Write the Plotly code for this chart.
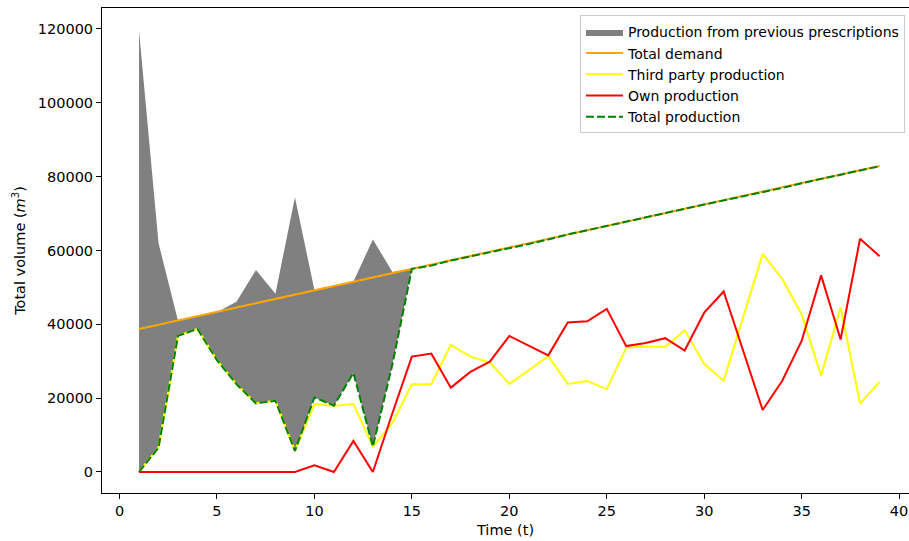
import plotly.graph_objects as go

t = list(range(1, 40))

total_demand = [38750, 39910, 41070, 42240, 43400, 44560, 45720, 46880, 48040, 49200,
                50370, 51530, 52690, 53860, 55020, 56180, 57340, 58500, 59660, 60830,
                61990, 63150, 64310, 65480, 66640, 67800, 68960, 70120, 71290, 72450,
                73610, 74770, 75940, 77100, 78260, 79420, 80580, 81750, 82910]

third_party = [0, 6600, 36900, 38750, 30300, 23800, 18600, 19300, 5700, 18400,
               17970, 18430, 6870, 13200, 23770, 23850, 34420, 31250, 29720, 23850,
               27550, 31400, 23850, 24660, 22400, 33690, 33960, 33870, 38400, 29270,
               24740, 42060, 59080, 52300, 42730, 26100, 44630, 18520, 24390]

own_production = [0, 0, 0, 0, 0, 0, 0, 0, 0, 1800,
                  0, 8400, 0, 15900, 31250, 32060, 22850, 27100, 29900, 36860,
                  34200, 31600, 40500, 40820, 44200, 34100, 34950, 36250, 32900, 43150,
                  48880, 32700, 16800, 24650, 35500, 53250, 35900, 63200, 58450]

# upper edge of the production from previous prescriptions (t = 1..15)
t_prev = list(range(1, 16))
prev_top = [119500, 62000, 41000, 42200, 43300, 46100, 54700, 48300, 74400, 49300,
            50400, 51500, 63000, 54200, 55020]

total_production = [a + b for a, b in zip(third_party, own_production)]

fig = go.Figure()

fig.add_trace(go.Scatter(x=t_prev, y=total_production[:15], mode="lines",
                         line=dict(width=0, color="gray"), showlegend=False,
                         hoverinfo="skip"))
fig.add_trace(go.Scatter(x=t_prev, y=prev_top, mode="lines", fill="tonexty",
                         fillcolor="#808080", line=dict(width=0, color="#808080"),
                         name="Production from previous prescriptions"))
fig.add_trace(go.Scatter(x=t, y=total_demand, mode="lines",
                         line=dict(color="#FFA500", width=2), name="Total demand"))
fig.add_trace(go.Scatter(x=t, y=third_party, mode="lines",
                         line=dict(color="#FFFF00", width=2), name="Third party production"))
fig.add_trace(go.Scatter(x=t, y=own_production, mode="lines",
                         line=dict(color="#FF0000", width=2), name="Own production"))
fig.add_trace(go.Scatter(x=t, y=total_production, mode="lines",
                         line=dict(color="#008000", width=2, dash="8px,3px"),
                         name="Total production"))

font = dict(family="DejaVu Sans", size=14.5, color="black")

fig.update_layout(
    width=909, height=541,
    margin=dict(l=102, r=0, t=8, b=48),
    paper_bgcolor="white", plot_bgcolor="white",
    font=font,
    showlegend=True,
    legend=dict(x=0.995, y=0.985, xanchor="right", yanchor="top",
                traceorder="normal",
                bgcolor="rgba(255,255,255,0.8)", bordercolor="#cccccc", borderwidth=1,
                font=dict(family="DejaVu Sans", size=14, color="black"),
                tracegroupgap=0, itemwidth=37),
)

fig.update_xaxes(range=[-0.9, 40.51], tickmode="array",
                 tickvals=[0, 5, 10, 15, 20, 25, 30, 35, 40],
                 ticks="outside", ticklen=5, tickcolor="black", tickwidth=1,
                 showline=True, linecolor="black", linewidth=1, mirror=True,
                 showgrid=False, zeroline=False,
                 title=dict(text="Time (t)", standoff=6, font=font))
fig.update_yaxes(range=[-5690, 125680], tickmode="array",
                 tickvals=[0, 20000, 40000, 60000, 80000, 100000, 120000],
                 ticktext=["0", "20000", "40000", "60000", "80000", "100000", "120000"],
                 ticks="outside", ticklen=5, tickcolor="black", tickwidth=1,
                 showline=True, linecolor="black", linewidth=1, mirror=False,
                 showgrid=False, zeroline=False,
                 title=dict(text="Total volume (<i>m</i><sup>3</sup>)", standoff=8, font=font))

fig.write_html("out.html", config={"displayModeBar": False},
               post_script="document.body.style.margin='0';document.body.style.overflow='hidden';")
